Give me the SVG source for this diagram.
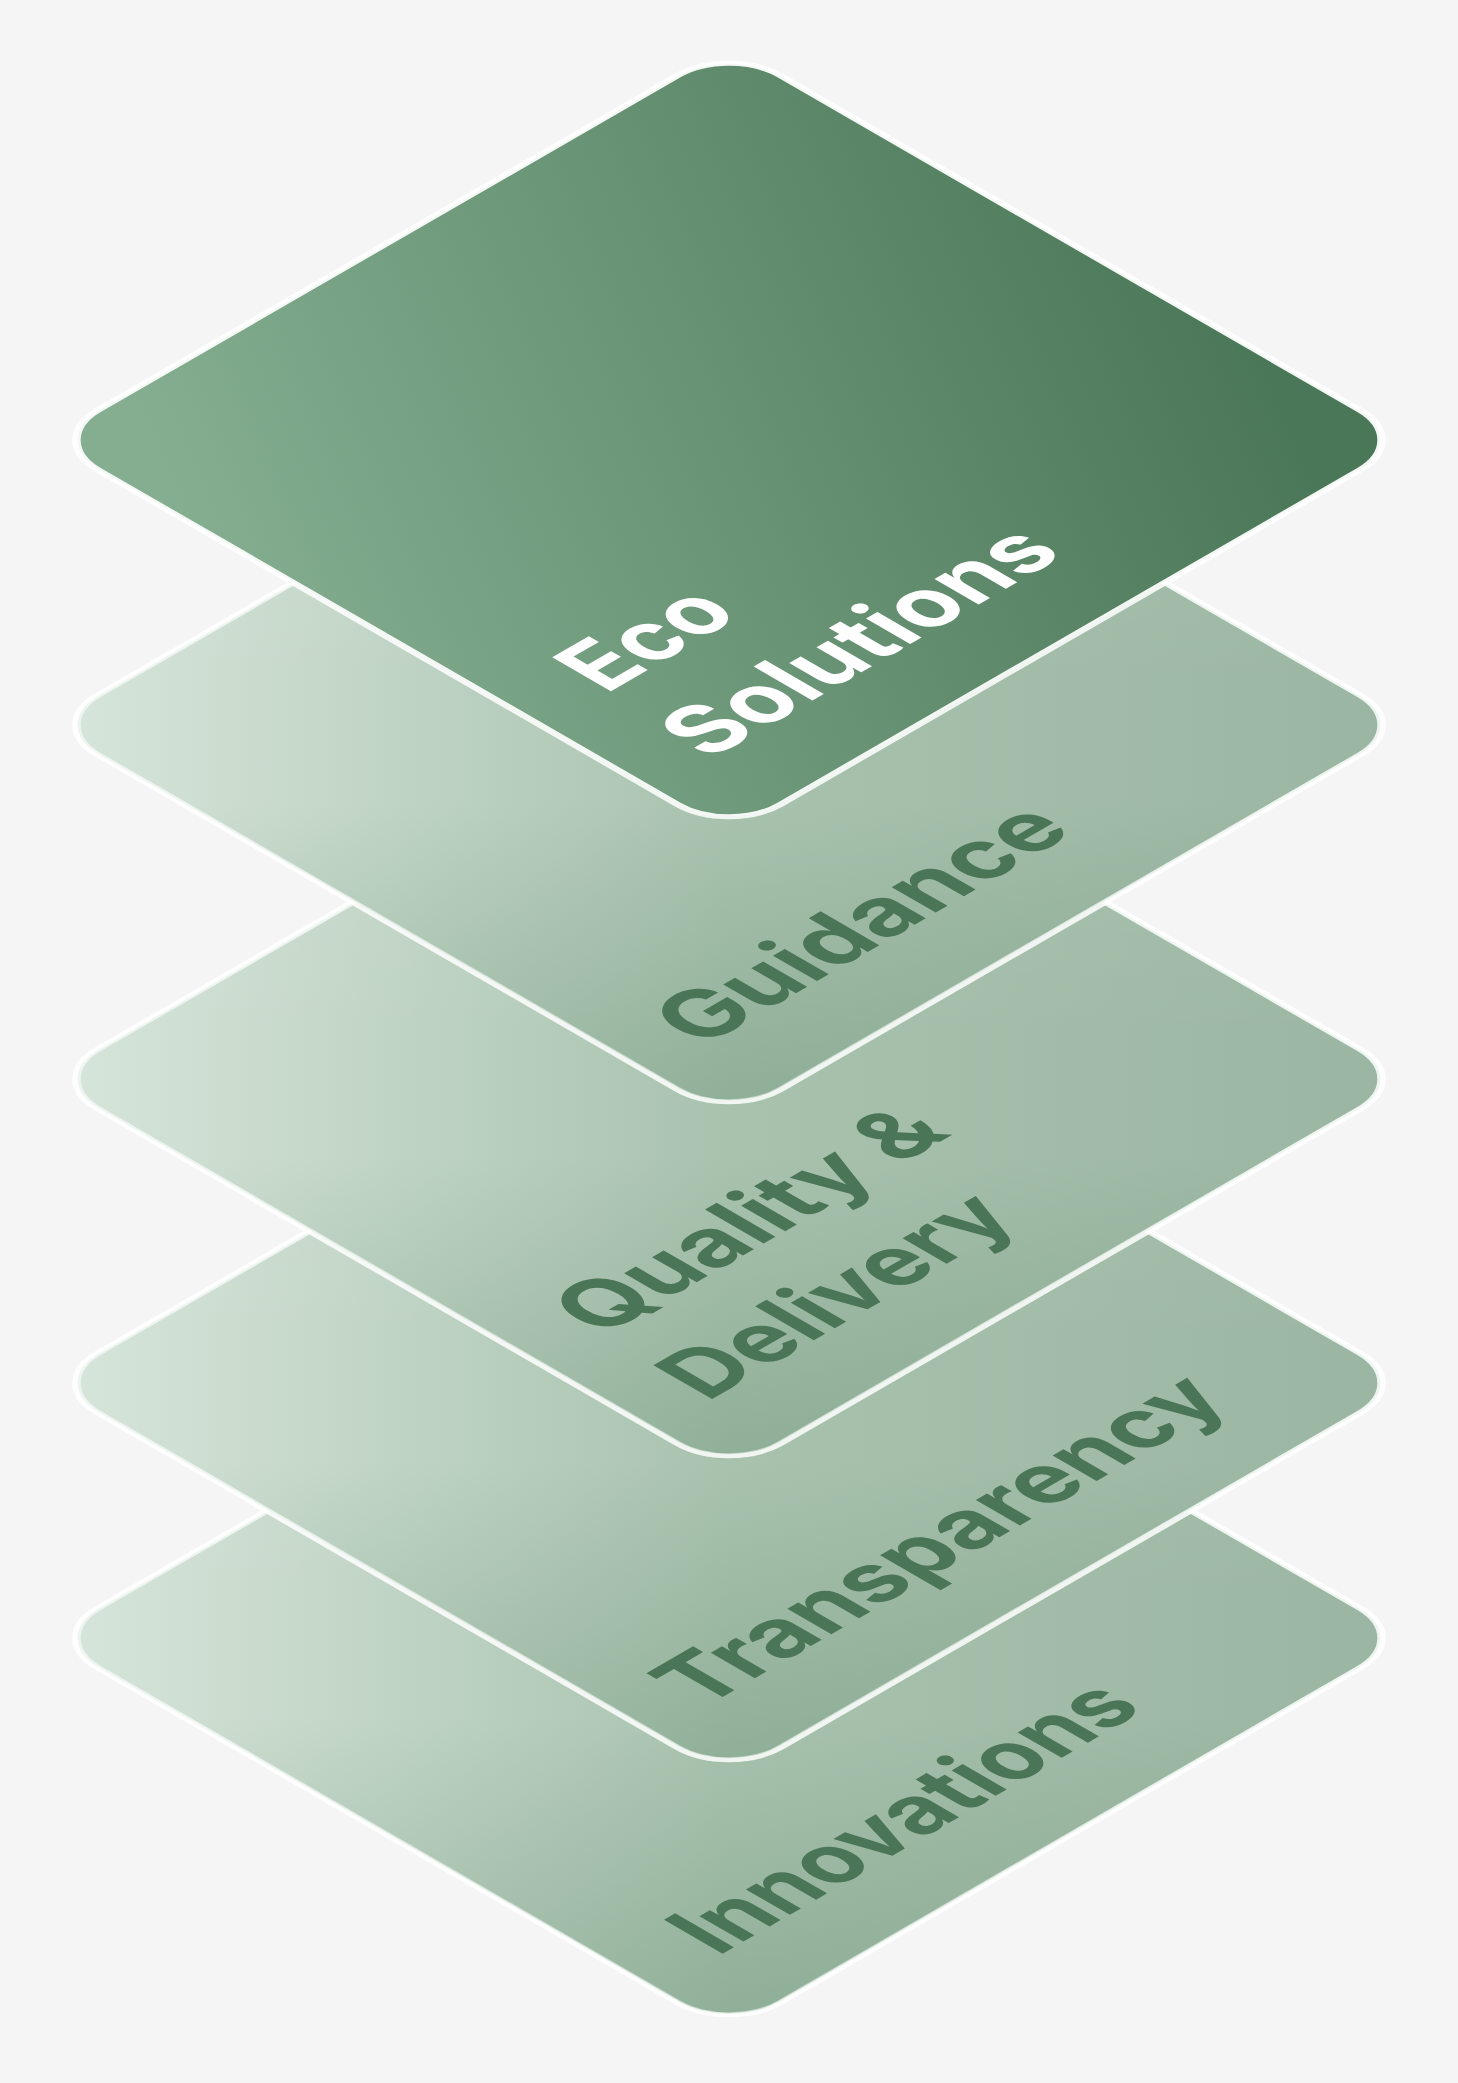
<svg xmlns="http://www.w3.org/2000/svg" width="1458" height="2083" viewBox="0 0 1458 2083">
  <defs>
    <linearGradient id="topGrad" x1="0" y1="0.2" x2="1" y2="0.8">
      <stop offset="0" stop-color="#85ae91"/>
      <stop offset="1" stop-color="#4a7757"/>
    </linearGradient>
    <linearGradient id="glassGrad" x1="0" y1="0" x2="1" y2="1">
      <stop offset="0" stop-color="#d8e6dc"/>
      <stop offset="0.5" stop-color="#a8c2ae"/>
      <stop offset="1" stop-color="#9ab5a1"/>
    </linearGradient>
    <linearGradient id="shade" x1="1" y1="0" x2="0" y2="1">
      <stop offset="0" stop-color="#ffffff" stop-opacity="0.12"/>
      <stop offset="0.45" stop-color="#ffffff" stop-opacity="0"/>
      <stop offset="0.6" stop-color="#4f7c5c" stop-opacity="0"/>
      <stop offset="1" stop-color="#4f7c5c" stop-opacity="0.28"/>
    </linearGradient>
    <rect id="plate" x="-480" y="-480" width="960" height="960" rx="70" ry="70"/>
  </defs>
  <style>
    .halo { fill: none; stroke: #ffffff; stroke-width: 14; stroke-opacity: 0.85; vector-effect: non-scaling-stroke; }
    .glass { fill: url(#glassGrad); stroke: #eef5f0; stroke-width: 3; vector-effect: non-scaling-stroke; }
    .shade { fill: url(#shade); }
    .top { fill: url(#topGrad); stroke: #f4f8f5; stroke-width: 3; vector-effect: non-scaling-stroke; }
    .lbl { font-family: Inter, "Noto Sans", "Liberation Sans", sans-serif; font-weight: 700; font-size: 114px; }
    .dark { fill: #4a7557; }
    .light { fill: #ffffff; }
  </style>
  <rect x="0" y="0" width="1458" height="2083" fill="#f5f5f5"/>
  <g id="connectors"/>

  <g id="innovations" transform="matrix(0.70711 -0.40825 0.70711 0.40825 729 1638)">
    <use href="#plate" class="halo"/>
    <use href="#plate" class="glass"/>
    <use href="#plate" class="shade"/>
    <text class="lbl dark" x="-398" y="382" textLength="605" lengthAdjust="spacingAndGlyphs">Innovations</text>
  </g>

  <g id="transparency" transform="matrix(0.70711 -0.40825 0.70711 0.40825 729 1383)">
    <use href="#plate" class="halo"/>
    <use href="#plate" class="glass"/>
    <use href="#plate" class="shade"/>
    <text class="lbl dark" x="-418" y="380" textLength="750" lengthAdjust="spacingAndGlyphs">Transparency</text>
  </g>

  <g id="quality-delivery" transform="matrix(0.70711 -0.40825 0.70711 0.40825 729 1079)">
    <use href="#plate" class="halo"/>
    <use href="#plate" class="glass"/>
    <use href="#plate" class="shade"/>
    <text class="lbl dark" x="-406" y="226" textLength="496" lengthAdjust="spacingAndGlyphs">Quality &amp;</text>
    <text class="lbl dark" x="-411" y="380" textLength="444" lengthAdjust="spacingAndGlyphs">Delivery</text>
  </g>

  <g id="guidance" transform="matrix(0.70711 -0.40825 0.70711 0.40825 729 725)">
    <use href="#plate" class="halo"/>
    <use href="#plate" class="glass"/>
    <use href="#plate" class="shade"/>
    <text class="lbl dark" x="-414" y="376" textLength="528" lengthAdjust="spacingAndGlyphs">Guidance</text>
  </g>

  <g id="eco-solutions" transform="matrix(0.70711 -0.40825 0.70711 0.40825 729 440)">
    <use href="#plate" class="halo"/>
    <use href="#plate" class="top"/>
    <text class="lbl light" x="-398" y="224" textLength="192" lengthAdjust="spacingAndGlyphs">Eco</text>
    <text class="lbl light" x="-406" y="378" textLength="504" lengthAdjust="spacingAndGlyphs">Solutions</text>
  </g>
</svg>
